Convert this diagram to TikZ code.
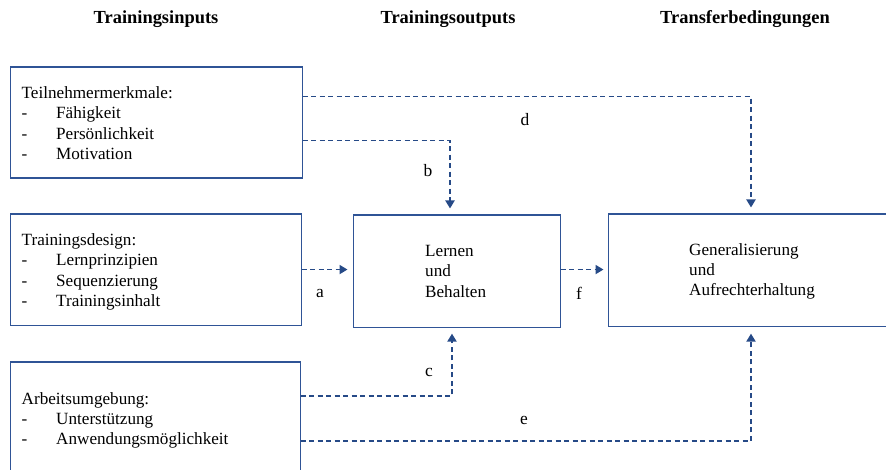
\documentclass[tikz,border=0pt]{standalone}
\usepackage{fontspec}
\setmainfont{Liberation Serif}
\usetikzlibrary{arrows.meta}
\definecolor{boxblue}{RGB}{47,84,150}
\definecolor{lineblue}{RGB}{38,74,135}
\newcommand\itm[1]{\makebox[34.5bp][l]{-}#1}
\begin{document}
\begin{tikzpicture}[x=1bp,y=-1bp,
  box/.style={draw=boxblue,line width=1.1bp,anchor=north west,inner sep=0pt},
  txt/.style={inner sep=0pt,anchor=north west,align=left,font=\fontsize{17.2}{20.4}\selectfont},
  hdr/.style={inner sep=0pt,font=\fontsize{18.5}{22}\selectfont\bfseries},
  lbl/.style={inner sep=0pt,font=\fontsize{17.5}{20}\selectfont},
  conn/.style={draw=lineblue,line width=1.9bp,dash pattern=on 5bp off 3.5bp,-{Triangle[width=9bp,length=8bp]}}]
\useasboundingbox (0,0) rectangle (886,470);
\clip (0,0) rectangle (886,470);
% headers
\node[hdr] (h1) at (156,19.5) {Trainingsinputs};
\node[hdr] (h2) at (448,19.5) {Trainingsoutputs};
\node[hdr] (h3) at (745,19.5) {Transferbedingungen};
% boxes
\node[box,minimum width=292bp,minimum height=111bp] (tn) at (9.5,66.5) {};
\node[box,minimum width=291bp,minimum height=111bp] (td) at (9.5,213.5) {};
\node[box,minimum width=290bp,minimum height=115bp] (au) at (9.5,361.5) {};
\node[box,minimum width=207bp,minimum height=112bp] (lb) at (352.5,214.5) {};
\node[box,minimum width=290bp,minimum height=112bp] (ga) at (607.5,213.5) {};
% texts
\node[txt] (tntxt) at (21.5,86.5) {Teilnehmermerkmale:\\\itm{Fähigkeit}\\\itm{Persönlichkeit}\\\itm{Motivation}};
\node[txt] (tdtxt) at (21.5,233.5) {Trainingsdesign:\\\itm{Lernprinzipien}\\\itm{Sequenzierung}\\\itm{Trainingsinhalt}};
\node[txt] (autxt) at (21.5,392) {Arbeitsumgebung:\\\itm{Unterstützung}\\\itm{Anwendungsmöglichkeit}};
\node[txt] (lbtxt) at (425,245) {Lernen\\und\\Behalten};
\node[txt] (gatxt) at (689,243) {Generalisierung\\und\\Aufrechterhaltung};
% labels
\node[lbl] (la) at (320,293) {a};
\node[lbl] (lb2) at (428,171) {b};
\node[lbl] (lc) at (429,372) {c};
\node[lbl] (ld) at (525,120) {d};
\node[lbl] (le) at (524,420) {e};
\node[lbl] (lf) at (579,293) {f};
% connector columns
\coordinate (dx) at (751,0);
\coordinate (bx) at (450,0);
\coordinate (cx) at (452,0);
\coordinate (ex) at (751,0);
% connectors
\draw[conn,shorten >=6bp] ([yshift=26bp]tn.east) -| (ga.north -| dx);
\draw[conn,shorten >=6bp] ([yshift=-18bp]tn.east) -| (lb.north -| bx);
\draw[conn,shorten >=5bp] (td.east) -- (lb.west |- td.east);
\draw[conn,shorten >=4bp] (lb.east |- td.east) -- (ga.west |- td.east);
\draw[conn,shorten >=6bp] ([yshift=-34.5bp]au.north east) -| (lb.south -| cx);
\draw[conn,shorten >=7bp] ([yshift=-79.5bp]au.north east) -| (ga.south -| ex);
\end{tikzpicture}
\end{document}
